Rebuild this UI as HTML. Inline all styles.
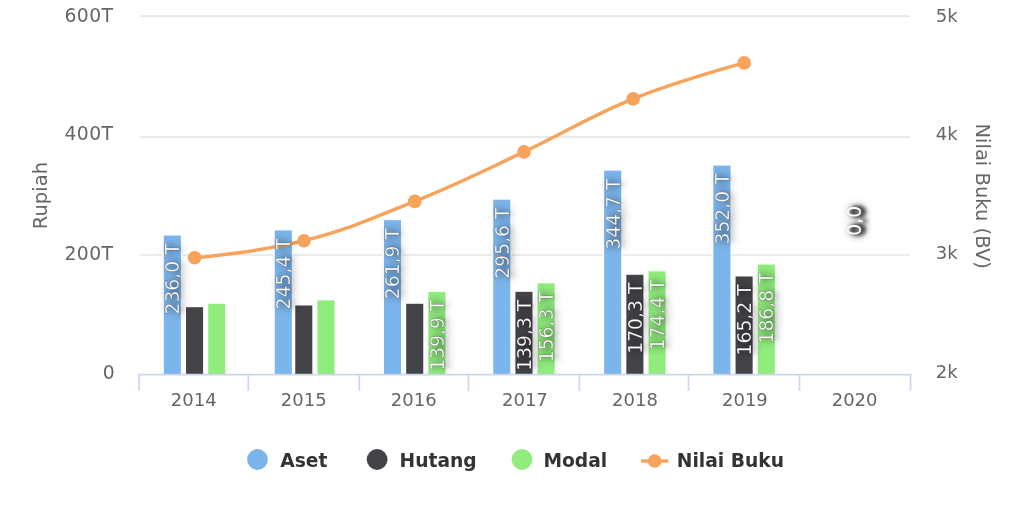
<!DOCTYPE html>
<html><head><meta charset="utf-8"><title>Chart</title>
<style>html,body{margin:0;padding:0;background:#fff;}body{width:1024px;height:512px;position:relative;overflow:hidden;font-family:"DejaVu Sans","Liberation Sans",sans-serif;}</style></head>
<body>
<svg width="1024" height="512" viewBox="0 0 600 300" style="position:absolute;left:0;top:0;font-family:'DejaVu Sans','Liberation Sans',sans-serif">
<defs><filter id="ts" x="-200%" y="-50%" width="500%" height="200%" color-interpolation-filters="sRGB"><feGaussianBlur in="SourceAlpha" stdDeviation="2.8" result="b1"/><feOffset in="b1" dx="2" dy="0" result="o1"/><feComponentTransfer in="o1" result="s1"><feFuncA type="linear" slope="0.68"/></feComponentTransfer><feGaussianBlur in="SourceAlpha" stdDeviation="1.4" result="b2"/><feOffset in="b2" dx="2" dy="0" result="o2"/><feComponentTransfer in="o2" result="s2"><feFuncA type="linear" slope="0.12"/></feComponentTransfer><feMerge><feMergeNode in="s1"/><feMergeNode in="s2"/><feMergeNode in="SourceGraphic"/></feMerge></filter><filter id="tz" x="-200%" y="-50%" width="500%" height="200%" color-interpolation-filters="sRGB"><feGaussianBlur in="SourceAlpha" stdDeviation="2.6" result="b1"/><feOffset in="b1" dx="1.5" dy="0" result="o1"/><feComponentTransfer in="o1" result="s1"><feFuncA type="linear" slope="1"/></feComponentTransfer><feGaussianBlur in="SourceAlpha" stdDeviation="1.2" result="b2"/><feOffset in="b2" dx="2.2" dy="0" result="o2"/><feComponentTransfer in="o2" result="s2"><feFuncA type="linear" slope="1.6"/></feComponentTransfer><feMerge><feMergeNode in="s1"/><feMergeNode in="s2"/><feMergeNode in="SourceGraphic"/></feMerge></filter></defs>
<rect x="0" y="0" width="600" height="300" fill="#ffffff"/>
<path d="M 82.03 9.43 L 533.20 9.43" stroke="#e6e6e6" stroke-width="1" fill="none"/>
<path d="M 82.03 80.33 L 533.20 80.33" stroke="#e6e6e6" stroke-width="1" fill="none"/>
<path d="M 82.03 149.41 L 533.20 149.41" stroke="#e6e6e6" stroke-width="1" fill="none"/>
<g fill="#7cb5ec" stroke="#ffffff" stroke-width="1">
<rect x="95.5" y="137.5" width="11" height="82.5"/>
<rect x="160.5" y="134.5" width="11" height="85.5"/>
<rect x="224.5" y="128.5" width="11" height="91.5"/>
<rect x="288.5" y="116.5" width="11" height="103.5"/>
<rect x="353.5" y="99.5" width="11" height="120.5"/>
<rect x="417.5" y="96.5" width="11" height="123.5"/>
</g>
<g fill="#434348" stroke="#ffffff" stroke-width="1">
<rect x="108.5" y="179.5" width="11" height="40.5"/>
<rect x="172.5" y="178.5" width="11" height="41.5"/>
<rect x="237.5" y="177.5" width="11" height="42.5"/>
<rect x="301.5" y="170.5" width="11" height="49.5"/>
<rect x="366.5" y="160.5" width="11" height="59.5"/>
<rect x="430.5" y="161.5" width="11" height="58.5"/>
</g>
<g fill="#90ed7d" stroke="#ffffff" stroke-width="1">
<rect x="121.5" y="177.5" width="11" height="42.5"/>
<rect x="185.5" y="175.5" width="11" height="44.5"/>
<rect x="250.5" y="170.5" width="11" height="49.5"/>
<rect x="314.5" y="165.5" width="11" height="54.5"/>
<rect x="379.5" y="158.5" width="11" height="61.5"/>
<rect x="443.5" y="154.5" width="11" height="65.5"/>
</g>
<g stroke="#ccd6eb" stroke-width="1" fill="none">
<path d="M 80.98 219.50 L 533.96 219.50"/>
<path d="M 81.50 219.50 L 81.50 228.93"/>
<path d="M 145.49 219.50 L 145.49 228.93"/>
<path d="M 210.53 219.50 L 210.53 228.93"/>
<path d="M 274.45 219.50 L 274.45 228.93"/>
<path d="M 339.49 219.50 L 339.49 228.93"/>
<path d="M 403.42 219.50 L 403.42 228.93"/>
<path d="M 468.46 219.50 L 468.46 228.93"/>
<path d="M 533.50 219.50 L 533.50 228.93"/>
</g>
<path d="M 114.02 151.05 C 114.02 151.05 152.48 147.61 178.12 141.04 C 204.09 134.37 217.08 128.43 243.05 117.95 C 268.64 107.62 281.44 101.01 307.03 89.00 C 332.60 77.01 345.39 68.28 370.96 57.95 C 397.00 47.42 436.05 36.86 436.05 36.86" stroke="#f7a35c" stroke-width="2" fill="none" stroke-linejoin="round" stroke-linecap="round"/>
<g fill="#f7a35c">
<circle cx="114.02" cy="151.05" r="4"/>
<circle cx="178.12" cy="141.04" r="4"/>
<circle cx="243.05" cy="117.95" r="4"/>
<circle cx="307.03" cy="89.00" r="4"/>
<circle cx="370.96" cy="57.95" r="4"/>
<circle cx="436.05" cy="36.86" r="4"/>
</g>
<g font-size="11" fill="#ffffff" text-anchor="end" stroke="#000000" stroke-opacity="0.35" stroke-width="0.3">
<g filter="url(#ts)"><text transform="translate(101.00 142.60) rotate(-90)" x="0" y="4">236,0 T</text></g>
<g filter="url(#ts)"><text transform="translate(166.00 139.60) rotate(-90)" x="0" y="4">245,4 T</text></g>
<g filter="url(#ts)"><text transform="translate(230.00 133.60) rotate(-90)" x="0" y="4">261,9 T</text></g>
<g filter="url(#ts)"><text transform="translate(294.00 121.60) rotate(-90)" x="0" y="4">295,6 T</text></g>
<g filter="url(#ts)"><text transform="translate(359.00 104.60) rotate(-90)" x="0" y="4">344,7 T</text></g>
<g filter="url(#ts)"><text transform="translate(423.00 101.60) rotate(-90)" x="0" y="4">352,0 T</text></g>
<g filter="url(#ts)"><text transform="translate(307.00 175.60) rotate(-90)" x="0" y="4">139,3 T</text></g>
<g filter="url(#ts)"><text transform="translate(372.00 165.60) rotate(-90)" x="0" y="4">170,3 T</text></g>
<g filter="url(#ts)"><text transform="translate(436.00 166.60) rotate(-90)" x="0" y="4">165,2 T</text></g>
<g filter="url(#ts)"><text transform="translate(256.00 175.60) rotate(-90)" x="0" y="4">139,9 T</text></g>
<g filter="url(#ts)"><text transform="translate(320.00 170.60) rotate(-90)" x="0" y="4">156,3 T</text></g>
<g filter="url(#ts)"><text transform="translate(385.00 163.60) rotate(-90)" x="0" y="4">174,4 T</text></g>
<g filter="url(#ts)"><text transform="translate(449.00 159.60) rotate(-90)" x="0" y="4">186,8 T</text></g>
<g filter="url(#tz)" stroke="none"><text transform="translate(500.57 120.59) rotate(-90)" x="0" y="4">0,0</text></g>
</g>
<g font-size="11" fill="#666666" text-anchor="end" letter-spacing="0.25">
<text x="66.45" y="12.89">600T</text>
<text x="66.45" y="81.91">400T</text>
<text x="66.45" y="152.17">200T</text>
<text x="67.44" y="222.30">0</text>
</g>
<g font-size="10.55" fill="#666666" text-anchor="start">
<text x="548.26" y="12.83">5k</text>
<text x="548.26" y="81.80">4k</text>
<text x="548.26" y="151.79">3k</text>
<text x="548.26" y="221.72">2k</text>
</g>
<g font-size="11.45" fill="#666666" text-anchor="middle">
<text transform="translate(27.77 114.61) rotate(270)">Rupiah</text>
<text transform="translate(571.88 114.96) rotate(90)">Nilai Buku (BV)</text>
</g>
<g font-size="10.55" fill="#666666" text-anchor="middle">
<text x="113.53" y="237.83">2014</text>
<text x="177.95" y="237.83">2015</text>
<text x="242.40" y="237.83">2016</text>
<text x="307.56" y="237.83">2017</text>
<text x="372.07" y="237.83">2018</text>
<text x="436.46" y="237.83">2019</text>
<text x="500.74" y="237.83">2020</text>
</g>
<g font-size="10.95" font-weight="bold" fill="#333333">
<circle cx="150.88" cy="269.24" r="6.1" fill="#7cb5ec"/>
<text x="164.18" y="273.63">Aset</text>
<circle cx="220.96" cy="269.24" r="6.1" fill="#434348"/>
<text x="234.14" y="273.63">Hutang</text>
<circle cx="305.86" cy="269.24" r="6.1" fill="#90ed7d"/>
<text x="318.40" y="273.63">Modal</text>
<path d="M 375.61 270.12 L 391.61 270.12" stroke="#f7a35c" stroke-width="2" fill="none"/>
<circle cx="383.61" cy="270.12" r="4" fill="#f7a35c"/>
<text x="396.56" y="273.63">Nilai Buku</text>
</g>
</svg>
</body></html>
